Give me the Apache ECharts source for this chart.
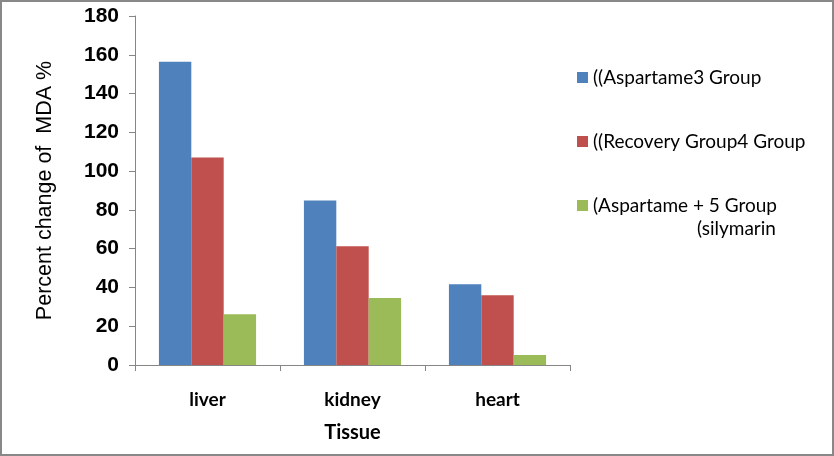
<!DOCTYPE html>
<html><head><meta charset="utf-8">
<script src="https://cdn.jsdelivr.net/npm/echarts@6/dist/echarts.min.js"></script>
<style>html,body{margin:0;padding:0;background:#fff}#c{width:834px;height:456px;box-sizing:border-box;border:2px solid #888}</style>
</head><body><div id="c"></div>
<script>
const categories = ['liver', 'kidney', 'heart'];
const seriesNames = ['((Aspartame3 Group', '((Recovery Group4 Group', '(Aspartame + 5 Group'];
const legendExtraLine = '(silymarin';
const aspartame = [156.4, 84.9, 41.7];
const recovery = [107.0, 61.2, 36.0];
const silymarin = [26.2, 34.5, 5.1];
const yTicks = { min: 0, max: 180, interval: 20 };
const colors = ['#4F81BD', '#C0504D', '#9BBB59'];

const legendFont = 'Lato, "Open Sans", sans-serif';
const chart = echarts.init(document.getElementById('c'), null, { renderer: 'canvas' });
const data = [aspartame, recovery, silymarin];
chart.setOption({
  animation: false,
  color: colors,
  grid: { left: 133, right: 262, top: 14, bottom: 89, containLabel: false },
  legend: {
    orient: 'vertical', left: 570, top: 60, itemGap: 43,
    itemWidth: 11, itemHeight: 11, icon: 'rect',
    textStyle: { fontFamily: legendFont, fontSize: 19, color: '#000', lineHeight: 21 },
    data: seriesNames
  },
  graphic: [{
    type: 'text', left: 695, top: 217,
    style: { text: legendExtraLine, font: '19px ' + legendFont, fill: '#000' }
  }],
  xAxis: {
    type: 'category', data: categories,
    name: 'Tissue', nameLocation: 'middle', nameGap: 58,
    nameTextStyle: { fontFamily: 'Lato, sans-serif', fontWeight: 'bold', fontSize: 20, color: '#000' },
    axisLine: { lineStyle: { color: '#868686', width: 1 } },
    axisTick: { show: true, length: 6, lineStyle: { color: '#868686' } },
    axisLabel: { margin: 25, fontFamily: 'Lato, sans-serif', fontWeight: 'bold', fontSize: 19, color: '#000' }
  },
  yAxis: {
    type: 'value', min: yTicks.min, max: yTicks.max, interval: yTicks.interval,
    name: 'Percent change of  MDA %', nameLocation: 'middle', nameGap: 79, nameRotate: 90,
    nameTextStyle: { fontFamily: '"Liberation Sans", Arial, sans-serif', fontSize: 21.5, color: '#000' },
    axisLine: { show: true, lineStyle: { color: '#868686', width: 1 } },
    axisTick: { show: true, length: 6, lineStyle: { color: '#868686' } },
    splitLine: { show: false },
    axisLabel: { margin: 16, fontFamily: '"Liberation Sans", Arial, sans-serif', fontWeight: 'bold', fontSize: 21, color: '#000' }
  },
  series: seriesNames.map((n, i) => ({
    name: n, type: 'bar', data: data[i],
    barGap: '0%', barCategoryGap: '33%'
  }))
});
</script></body></html>
